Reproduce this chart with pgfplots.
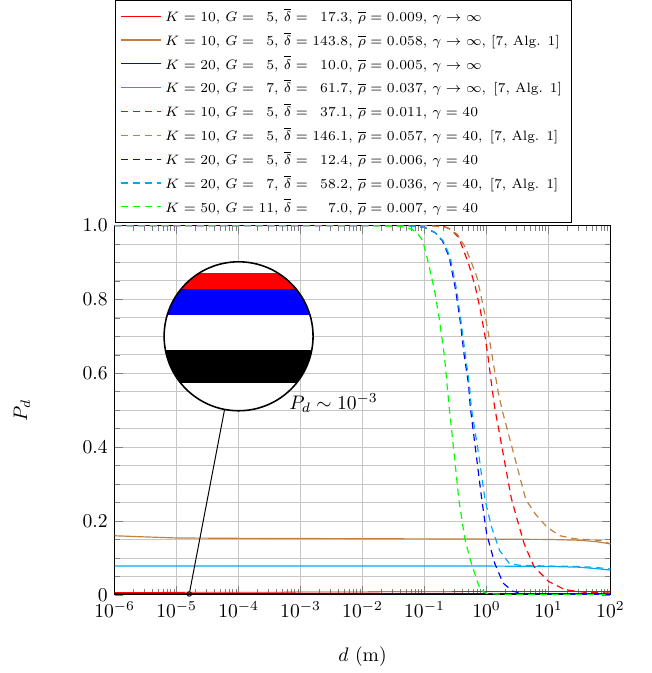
\documentclass[border=0pt]{standalone}
\usepackage{pgfplots}
\pgfplotsset{compat=1.18}
\definecolor{mycyan}{RGB}{0,170,240}
\definecolor{myred}{RGB}{255,0,0}
\definecolor{myblue}{RGB}{0,0,255}
\definecolor{mygreen}{RGB}{0,255,0}
\definecolor{mybrown}{RGB}{191,128,64}
\begin{document}
\begin{tikzpicture}
\begin{axis}[
  name=ax,
  scale only axis,
  width=253pt, height=188.5pt,
  xmode=log, xmin=1e-6, xmax=1e2, ymin=0, ymax=1,
  xtick={1e-6,1e-5,1e-4,1e-3,1e-2,1e-1,1,10,100},
  ytick={0,0.2,0.4,0.6,0.8,1},
  yticklabels={0,0.2,0.4,0.6,0.8,1.0},
  minor y tick num=3,
  xmajorgrids, ymajorgrids, yminorgrids,
  major grid style={gray!45, line width=0.4pt},
  minor grid style={gray!45, line width=0.4pt},
  xlabel={$d$ (m)}, ylabel={$P_d$},
  xlabel shift=8pt, ylabel shift=20pt,
  legend style={font=\fontsize{6.9pt}{8.3pt}\selectfont, at={(0,1)}, anchor=south west, yshift=1.2pt, draw=black, cells={anchor=west}, nodes={inner ysep=1.9pt}},
  legend image code/.code={\draw[#1, line width=0.6pt] (0pt,0pt) -- (20pt,0pt);},
  dashstyle/.style={dash pattern=on 3.5pt off 2.5pt, semithick},
]
% solid
\addplot[color=myred, no markers] coordinates {(1e-6,0.0065) (1e-4,0.007) (1e-2,0.008) (1,0.009) (100,0.009)};
\addlegendentry{$K=10$, $G=\phantom{1}5$, $\overline{\delta}=\phantom{1}17.3$, $\overline{\rho}=0.009$, $\gamma\rightarrow\infty$}
\addplot[color=mybrown, line width=0.6pt, no markers] coordinates {(1e-6,0.160) (3e-6,0.157) (1e-5,0.154) (1e-4,0.153) (1e-2,0.152) (1,0.151) (10,0.150) (30,0.148) (60,0.144) (100,0.138)};
\addlegendentry{$K=10$, $G=\phantom{1}5$, $\overline{\delta}=143.8$, $\overline{\rho}=0.058$, $\gamma\rightarrow\infty$, [7, Alg. 1]}
\addplot[color=myblue, no markers] coordinates {(1e-6,0.0053) (1e-2,0.0053) (100,0.0053)};
\addlegendentry{$K=20$, $G=\phantom{1}5$, $\overline{\delta}=\phantom{1}10.0$, $\overline{\rho}=0.005$, $\gamma\rightarrow\infty$}
\addplot[color=mycyan, line width=0.6pt, no markers] coordinates {(1e-6,0.078) (1,0.078) (10,0.077) (30,0.075) (60,0.071) (100,0.067)};
\addlegendentry{$K=20$, $G=\phantom{1}7$, $\overline{\delta}=\phantom{1}61.7$, $\overline{\rho}=0.037$, $\gamma\rightarrow\infty$,\ \,[7, Alg. 1]}
% dashed
\addplot[color=myred, dashstyle, no markers] coordinates {(1e-6,1) (0.1,1.0) (0.2,0.998) (0.263,0.99) (0.358,0.967) (0.515,0.896) (0.66,0.834) (0.794,0.772) (0.946,0.701) (1.07,0.639) (1.21,0.568) (1.36,0.506) (1.85,0.384) (2.51,0.262) (3.18,0.20) (4.06,0.138) (5.85,0.076) (10.1,0.036) (18.5,0.014) (38,0.007) (100,0.005)};
\addlegendentry{$K=10$, $G=\phantom{1}5$, $\overline{\delta}=\phantom{1}37.1$, $\overline{\rho}=0.011$, $\gamma=40$}
\addplot[color=mybrown, dashstyle, no markers] coordinates {(1e-6,1) (0.05,1.0) (0.113,1.0) (0.234,0.994) (0.339,0.976) (0.457,0.94) (0.583,0.896) (0.7,0.861) (0.891,0.78) (1.07,0.71) (1.28,0.63) (1.54,0.55) (1.81,0.497) (2.79,0.378) (4.31,0.258) (6.21,0.218) (9.48,0.183) (15.4,0.16) (26.3,0.152) (50,0.149) (70.8,0.147) (100,0.138)};
\addlegendentry{$K=10$, $G=\phantom{1}5$, $\overline{\delta}=146.1$, $\overline{\rho}=0.057$, $\gamma=40$,\ \,[7, Alg. 1]}
\addplot[color=myblue, dashstyle, no markers] coordinates {(1e-6,1) (0.05,1.0) (0.1,0.995) (0.15,0.98) (0.195,0.958) (0.251,0.914) (0.318,0.825) (0.38,0.737) (0.43,0.657) (0.515,0.568) (0.55,0.506) (0.676,0.385) (0.84,0.258) (1.007,0.165) (1.36,0.085) (1.85,0.032) (2.63,0.01) (4,0.003) (100,0.001)};
\addlegendentry{$K=20$, $G=\phantom{1}5$, $\overline{\delta}=\phantom{1}12.4$, $\overline{\rho}=0.006$, $\gamma=40$}
\addplot[color=mycyan, dashstyle, no markers] coordinates {(1e-6,1) (0.05,1.0) (0.1,0.995) (0.15,0.98) (0.2,0.958) (0.26,0.914) (0.33,0.825) (0.39,0.737) (0.45,0.657) (0.53,0.568) (0.57,0.506) (0.75,0.38) (0.946,0.258) (1.21,0.183) (1.63,0.12) (2.34,0.085) (3.4,0.08) (10,0.078) (30,0.077) (60,0.074) (100,0.07)};
\addlegendentry{$K=20$, $G=\phantom{1}7$, $\overline{\delta}=\phantom{1}58.2$, $\overline{\rho}=0.036$, $\gamma=40$,\ \,[7, Alg. 1]}
\addplot[color=mygreen, dashstyle, no markers] coordinates {(1e-6,1.0) (0.01,1.0) (0.04,0.998) (0.063,0.99) (0.08,0.975) (0.094,0.958) (0.113,0.905) (0.145,0.825) (0.174,0.745) (0.209,0.648) (0.251,0.506) (0.30,0.383) (0.358,0.258) (0.45,0.15) (0.55,0.094) (0.7,0.04) (0.794,0.014) (1.0,0.004) (2,0.001) (100,0.001)};
\addlegendentry{$K=50$, $G=11$, $\overline{\delta}=\phantom{11}7.0$, $\overline{\rho}=0.007$, $\gamma=40$}
\node at (axis cs:3.4e-3,0.52) {$P_d\sim10^{-3}$};
\coordinate (spypoint) at (axis cs:1.6e-5,0.0025);
\coordinate (glass) at (axis cs:1e-4,0.70);
\coordinate (O) at (rel axis cs:0,0);
\end{axis}
% magnified inset (x33) of the region around (1.6e-5, 0.0025)
\begin{scope}
\clip (glass) circle[radius=38pt];
\fill[white] (glass) circle[radius=38pt];
\begin{axis}[at={(glass)}, anchor=center, scale only axis, width=76pt, height=76pt,
  hide axis, xmin=-1, xmax=1, ymin=-0.003609, ymax=0.008609]
\addplot[black, line width=17pt, no markers] coordinates {(-1,0) (1,0)};
\addplot[myred, line width=13.2pt, no markers] coordinates {(-1,0.0066) (1,0.0066)};
\addplot[myblue, line width=13.2pt, no markers] coordinates {(-1,0.0053) (1,0.0053)};
\end{axis}
\end{scope}
\node[circle, draw, line width=0.5pt, minimum size=2.3pt, inner sep=0pt] (s) at (spypoint) {};
\node[circle, draw, line width=0.8pt, minimum size=76pt, inner sep=0pt] (g) at (glass) {};
\draw[line width=0.5pt] (s) -- (g);
\path ([shift={(-58.5pt,-35.5pt)}]O) rectangle ([shift={(274pt,301pt)}]O);
\end{tikzpicture}
\end{document}
